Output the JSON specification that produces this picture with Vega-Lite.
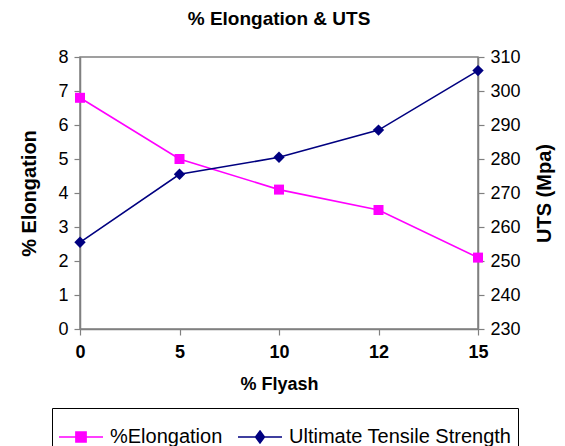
{
  "$schema": "https://vega.github.io/schema/vega-lite/v6.json",
  "autosize": "none",
  "padding": {"left": 80, "top": 57, "right": 87, "bottom": 117},
  "width": 398,
  "height": 272,
  "background": "white",
  "config": {
    "font": "Liberation Sans",
    "view": {"stroke": "#808080", "strokeWidth": 1.5},
    "axis": {"grid": false, "domainColor": "#808080", "tickColor": "#808080", "domainWidth": 1.5, "tickWidth": 1.2, "labelColor": "black", "titleColor": "black", "labelFont": "Liberation Sans", "titleFont": "Liberation Sans"}
  },
  "title": {"text": "% Elongation & UTS", "fontSize": 19, "fontWeight": "bold", "font": "Liberation Sans", "offset": 19, "color": "black"},
  "data": {"values": [
    {"flyash": "0", "series": "%Elongation", "value": 6.8},
    {"flyash": "5", "series": "%Elongation", "value": 5.0},
    {"flyash": "10", "series": "%Elongation", "value": 4.1},
    {"flyash": "12", "series": "%Elongation", "value": 3.5},
    {"flyash": "15", "series": "%Elongation", "value": 2.1},
    {"flyash": "0", "series": "Ultimate Tensile Strength", "value": 255.5},
    {"flyash": "5", "series": "Ultimate Tensile Strength", "value": 275.5},
    {"flyash": "10", "series": "Ultimate Tensile Strength", "value": 280.5},
    {"flyash": "12", "series": "Ultimate Tensile Strength", "value": 288.5},
    {"flyash": "15", "series": "Ultimate Tensile Strength", "value": 306}
  ]},
  "encoding": {
    "x": {
      "field": "flyash", "type": "ordinal", "sort": ["0", "5", "10", "12", "15"],
      "scale": {"type": "point", "padding": 0},
      "axis": {"title": "% Flyash", "labelAngle": 0, "labelFontSize": 18, "labelFontWeight": "bold", "titleFontSize": 18, "titleFontWeight": "bold", "tickSize": 6, "labelPadding": 8, "titlePadding": 14}
    }
  },
  "layer": [
    {
      "transform": [{"filter": "datum.series === '%Elongation'"}],
      "encoding": {
        "y": {
          "field": "value", "type": "quantitative",
          "scale": {"domain": [0, 8], "nice": false, "zero": false},
          "axis": {"orient": "left", "title": "% Elongation", "values": [0, 1, 2, 3, 4, 5, 6, 7, 8], "labelFontSize": 18, "titleFontSize": 20, "titleFontWeight": "bold", "tickSize": 6, "labelPadding": 6, "titlePadding": 18}
        }
      },
      "layer": [
        {
          "mark": {"type": "line", "strokeWidth": 1.6},
          "encoding": {
            "color": {
              "field": "series", "type": "nominal",
              "scale": {"domain": ["%Elongation", "Ultimate Tensile Strength"], "range": ["#FF00FF", "#000080"]},
              "legend": {
                "title": null,
                "orient": "none",
                "legendX": -28,
                "legendY": 351,
                "direction": "horizontal",
                "strokeColor": "black",
                "padding": 6,
                "symbolSize": 1936,
                "symbolStrokeWidth": 1.6,
                "labelFontSize": 20,
                "labelFont": "Liberation Sans",
                "labelColor": "black",
                "labelLimit": 0,
                "labelOffset": 6,
                "columnPadding": 11,
                "encode": {
                  "symbols": {
                    "update": {
                      "shape": {"signal": "datum.value === '%Elongation' ? 'M-1,0H-0.23M0.23,0H1M-0.23,-0.23H0.23V0.23H-0.23Z' : 'M-1,0H-0.2M0.2,0H1M0,-0.27L0.2,0L0,0.27L-0.2,0Z'"},
                      "fill": {"signal": "datum.value === '%Elongation' ? '#FF00FF' : '#000080'"},
                      "stroke": {"signal": "datum.value === '%Elongation' ? '#FF00FF' : '#000080'"}
                    }
                  }
                }
              }
            }
          }
        },
        {
          "mark": {"type": "point", "shape": "square", "filled": true, "size": 100, "color": "#FF00FF", "opacity": 1}
        }
      ]
    },
    {
      "transform": [{"filter": "datum.series === 'Ultimate Tensile Strength'"}],
      "encoding": {
        "y": {
          "field": "value", "type": "quantitative",
          "scale": {"domain": [230, 310], "nice": false, "zero": false},
          "axis": {"orient": "right", "title": "UTS (Mpa)", "values": [230, 240, 250, 260, 270, 280, 290, 300, 310], "labelFontSize": 18, "titleFontSize": 20, "titleFontWeight": "bold", "titleAngle": 270, "tickSize": 6, "labelPadding": 6, "titlePadding": 34}
        }
      },
      "layer": [
        {
          "mark": {"type": "line", "strokeWidth": 1.6},
          "encoding": {"color": {"field": "series", "type": "nominal"}}
        },
        {
          "mark": {"type": "point", "shape": "diamond", "filled": true, "size": 130, "color": "#000080", "opacity": 1}
        }
      ]
    }
  ],
  "resolve": {"scale": {"y": "independent"}}
}
